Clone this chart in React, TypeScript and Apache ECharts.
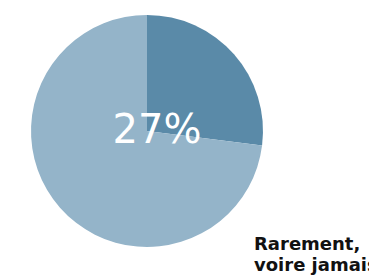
import React, { useEffect, useRef } from "react";
import * as echarts from "echarts";

const categories = ["Souvent", "Rarement, voire jamais"];
const values = [27, 73];
const colors = ["#5a8aa8", "#94b4c9"];
const centerLabel = "27%";
const sideLabel = "Rarement,\nvoire jamais";

export default function App() {
  const ref = useRef<HTMLDivElement>(null);
  useEffect(() => {
    const chart = echarts.init(ref.current!, null, { renderer: "svg" });
    chart.setOption({
      animation: false,
      series: [
        {
          type: "pie",
          center: [147, 131],
          radius: 116,
          startAngle: 90,
          clockwise: true,
          z: 1,
          label: { show: false },
          labelLine: { show: false },
          emphasis: { disabled: true },
          itemStyle: { borderWidth: 0 },
          data: categories.map((c, i) => ({
            name: c,
            value: values[i],
            itemStyle: { color: colors[i] },
          })),
        },
      ],
      graphic: [
        {
          type: "text",
          x: 157,
          y: 129,
          z: 100,
          style: {
            text: centerLabel,
            fill: "#ffffff",
            font: "normal 40px 'DejaVu Sans', sans-serif",
            textAlign: "center",
            textVerticalAlign: "middle",
          },
        },
        {
          type: "text",
          x: 254,
          y: 233,
          z: 100,
          style: {
            text: sideLabel,
            fill: "#111111",
            font: "bold 18px 'DejaVu Sans', sans-serif",
            lineHeight: 21,
            textAlign: "left",
            textVerticalAlign: "top",
          },
        },
      ],
    });
    return () => chart.dispose();
  }, []);
  return (
    <div
      ref={ref}
      style={{ position: "fixed", left: 0, top: 0, width: 369, height: 280, background: "#ffffff" }}
    />
  );
}
